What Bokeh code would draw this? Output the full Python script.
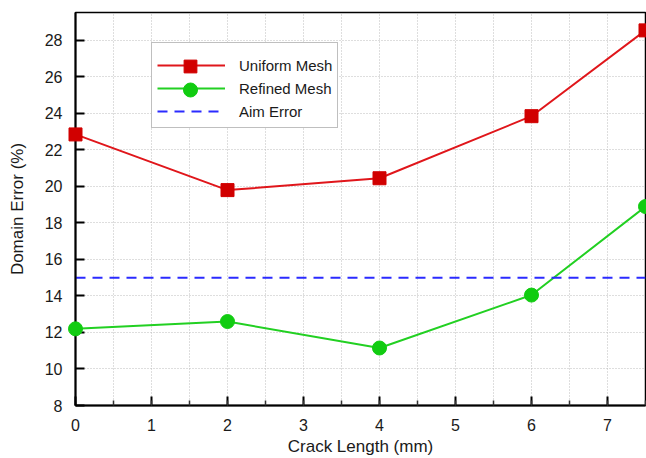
from bokeh.plotting import figure
from bokeh.models import Range1d, SingleIntervalTicker, Legend, LegendItem
from bokeh.embed import file_html
from bokeh.resources import INLINE

crack_length = [0, 2, 4, 6, 7.5]
uniform_mesh = [22.85, 19.8, 20.45, 23.85, 28.55]
refined_mesh = [12.2, 12.6, 11.15, 14.05, 18.9]
aim_error = 15

FONT = "Liberation Sans"

p = figure(width=646, height=458, output_backend="svg", toolbar_location=None,
           x_range=Range1d(0, 7.5), y_range=Range1d(8, 29.53),
           min_border_left=75, min_border_right=1, min_border_top=12, min_border_bottom=52)
p.background_fill_color = "white"
p.border_fill_color = "white"
p.outline_line_color = "black"
p.outline_line_width = 1.5

# axes
p.xaxis.ticker = SingleIntervalTicker(interval=1, num_minor_ticks=2)
p.yaxis.ticker = SingleIntervalTicker(interval=2, num_minor_ticks=0)
for ax in (p.xaxis[0], p.yaxis[0]):
    ax.axis_line_color = "black"
    ax.axis_line_width = 2
    ax.major_tick_line_color = "black"
    ax.major_tick_line_width = 2
    ax.major_tick_in = 9
    ax.major_tick_out = 0
    ax.minor_tick_line_color = "#333333"
    ax.minor_tick_line_width = 1.5
    ax.minor_tick_in = 5
    ax.minor_tick_out = 0
    ax.major_label_text_font = FONT
    ax.major_label_text_font_size = "16px"
    ax.major_label_text_color = "#1a1a1a"
    ax.axis_label_text_font = FONT
    ax.axis_label_text_font_size = "17px"
    ax.axis_label_text_font_style = "normal"
    ax.axis_label_text_color = "#1a1a1a"
p.xaxis.major_label_standoff = 13
p.yaxis.major_label_standoff = 13
p.xaxis.axis_label = "Crack Length (mm)"
p.yaxis.axis_label = "Domain Error (%)"
p.xaxis.axis_label_standoff = 3
p.yaxis.axis_label_standoff = 15

# grid
p.xgrid.ticker = SingleIntervalTicker(interval=0.5)
p.ygrid.ticker = SingleIntervalTicker(interval=2)
for g in (p.xgrid[0], p.ygrid[0]):
    g.grid_line_color = "#bdbdbd"
    g.grid_line_dash = "1 2"
    g.grid_line_width = 1

# data
l1 = p.line(crack_length, uniform_mesh, line_color="#e0161b", line_width=2)
s1 = p.scatter(crack_length, uniform_mesh, marker="square", size=13,
               fill_color="#d10000", line_color="#d10000", level="overlay")
l2 = p.line(crack_length, refined_mesh, line_color="#22d022", line_width=2)
s2 = p.scatter(crack_length, refined_mesh, marker="circle", size=14,
               fill_color="#11cc11", line_color="#11cc11", level="overlay")
l3 = p.line([0, 7.5], [aim_error, aim_error], line_color="#2b2bff", line_width=2,
            line_dash="10 7")

legend = Legend(items=[
    LegendItem(label="Uniform Mesh", renderers=[l1]),
    LegendItem(label="Refined Mesh", renderers=[l2]),
    LegendItem(label="Aim Error", renderers=[l3]),
], location=(76, 277))
legend.title = " "
legend.title_text_font_size = "5px"
legend.title_standoff = 0
legend.glyph_width = 68
legend.glyph_height = 22
legend.label_height = 20
legend.spacing = 1
legend.padding = 5
legend.margin = 0
legend.label_standoff = 14
legend.label_text_font = FONT
legend.label_text_font_size = "15px"
legend.label_text_color = "#1a1a1a"
legend.border_line_color = "#808080"
legend.border_line_width = 1.5
legend.background_fill_color = "white"
legend.background_fill_alpha = 1
p.add_layout(legend, "center")

# larger legend markers drawn on top of the line entries
for rend, gh, loc in ((s1, 32, (81, 323)), (s2, 35, (81, 298))):
    lg = Legend(items=[LegendItem(label=" ", renderers=[rend])], location=loc)
    lg.glyph_width = 68
    lg.glyph_height = gh
    lg.label_height = 10
    lg.padding = 0
    lg.margin = 0
    lg.label_standoff = 0
    lg.label_text_font_size = "1px"
    lg.border_line_color = None
    lg.background_fill_alpha = 0
    p.add_layout(lg, "center")

open("out.html", "w").write(file_html(p, INLINE))
